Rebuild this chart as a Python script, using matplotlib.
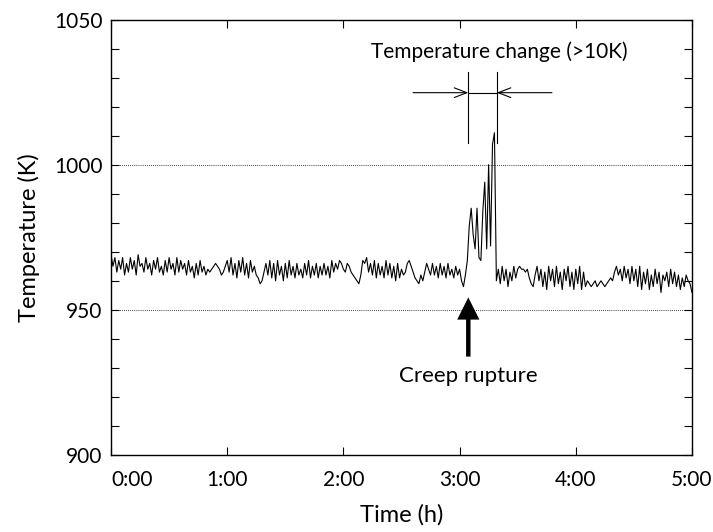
import numpy as np
import matplotlib.pyplot as plt
from matplotlib.ticker import MultipleLocator

plt.rcParams['font.family'] = ['Lato', 'DejaVu Sans']

# temperature, one sample per minute (0:00 .. 5:00)
temperature = [
    969, 965, 968, 963, 967, 964, 968, 962, 966, 963,
    968, 964, 967, 962, 969, 965, 966, 963, 968, 964,
    966, 962, 967, 964, 968, 963, 965, 962, 967, 963,
    968, 964, 966, 962, 968, 963, 967, 964, 966, 962,
    967, 963, 965, 961, 966, 962, 967, 963, 965, 962,
    964, 963, 964, 965, 966, 965, 964, 962, 963, 965,
    967, 963, 968, 962, 966, 961, 967, 963, 968, 962,
    966, 961, 967, 963, 965, 962, 961, 959, 960, 963,
    966, 962, 967, 961, 966, 960, 967, 962, 965, 960,
    966, 961, 967, 962, 965, 961, 966, 962, 964, 961,
    966, 962, 967, 961, 965, 962, 966, 961, 965, 962,
    966, 962, 965, 961, 967, 963, 966, 964, 967, 966,
    964, 963, 966, 965, 963, 962, 961, 960, 959, 962,
    967, 966, 968, 963, 966, 962, 967, 961, 966, 962,
    965, 961, 967, 962, 966, 961, 965, 960, 966, 961,
    964, 962, 963, 966, 967, 965, 963, 961, 960, 959,
    962, 960, 963, 966, 964, 962, 966, 962, 965, 961,
    966, 962, 965, 961, 966, 962, 964, 961, 965, 962,
    964, 960, 958, 962, 967, 979, 985, 976, 971, 985,
    968, 967, 984, 994, 971, 1000, 972, 1007, 1011, 960,
    964, 959, 965, 960, 964, 958, 963, 960, 965, 961,
    964, 965, 964, 964, 963, 964, 961, 959, 958, 962,
    965, 960, 964, 958, 963, 957, 965, 960, 964, 958,
    965, 959, 963, 957, 964, 960, 965, 958, 963, 957,
    964, 959, 965, 957, 963, 958, 960, 959, 958, 959,
    960, 958, 959, 960, 959, 958, 959, 960, 961, 960,
    963, 965, 962, 964, 960, 965, 961, 964, 959, 965,
    960, 964, 958, 965, 957, 963, 959, 964, 957, 962,
    958, 964, 959, 963, 956, 962, 960, 963, 958, 964,
    959, 963, 958, 962, 957, 961, 958, 962, 960, 959,
    956,
]
hours = np.arange(len(temperature)) / 60.0

hour_ticks = [0, 1, 2, 3, 4, 5]
hour_labels = ["0:00", "1:00", "2:00", "3:00", "4:00", "5:00"]
ref_lines = [950, 1000]

fig = plt.figure(figsize=(7.13, 5.32), dpi=100)
ax = fig.add_axes([0.1557, 0.1447, 0.8148, 0.8186])

ax.plot(hours, temperature, color='black', lw=0.8)

for y in ref_lines:
    ax.axhline(y, color='black', lw=0.6, ls=(0, (1, 1.5)))

# temperature change marker
ax.plot([3.075, 3.075], [1007.5, 1032], color='black', lw=0.8)
ax.plot([3.32, 3.32], [1007.5, 1032], color='black', lw=0.8)
ax.plot([3.075, 3.32], [1024.8, 1024.8], color='black', lw=0.8)
head = dict(arrowstyle='->,head_length=0.9,head_width=0.35', lw=0.8,
            color='black', mutation_scale=10, shrinkA=0, shrinkB=0)
ax.annotate('', xy=(3.075, 1024.8), xytext=(2.6, 1024.8), arrowprops=head)
ax.annotate('', xy=(3.32, 1024.8), xytext=(3.795, 1024.8), arrowprops=head)
ax.text(3.34, 1038.8, "Temperature change (>10K)", ha='center', va='center',
        fontsize=15)

# creep rupture arrow
ax.annotate('', xy=(3.075, 954.3), xytext=(3.075, 933.9),
            arrowprops=dict(arrowstyle='simple,head_length=1.6,head_width=1.6,tail_width=0.32',
                            lw=0, color='black', mutation_scale=10,
                            shrinkA=0, shrinkB=0))
ax.text(3.075, 927.2, "Creep rupture", ha='center', va='center', fontsize=16)

ax.set_xlim(0, 5)
ax.set_ylim(900, 1050)
ax.set_xticks(hour_ticks)
ax.set_xticklabels(hour_labels)
ax.get_xticklabels()[0].set_ha('left')
ax.set_yticks([900, 950, 1000, 1050])
ax.yaxis.set_minor_locator(MultipleLocator(10))
ax.tick_params(which='both', direction='in', top=True, right=True,
               length=5.5, width=0.8, labelsize=15)
ax.tick_params(axis='x', pad=11)
ax.tick_params(axis='y', pad=6)
for s in ax.spines.values():
    s.set_linewidth(1.0)

ax.set_xlabel("Time (h)", fontsize=17, labelpad=10)
ax.set_ylabel("Temperature (K)", fontsize=17, labelpad=10)

fig.savefig("out.png", dpi=100)
